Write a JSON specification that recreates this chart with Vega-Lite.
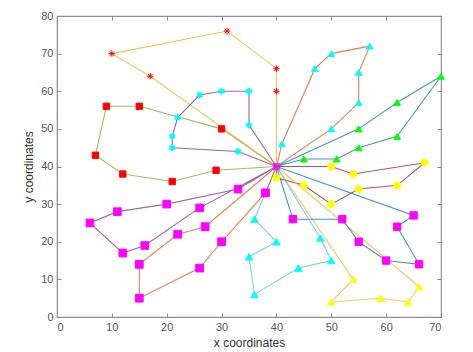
{
  "$schema": "https://vega.github.io/schema/vega-lite/v6.json",
  "autosize": "none",
  "width": 384,
  "height": 301,
  "padding": {"left": 57, "top": 16, "right": 32, "bottom": 35},
  "background": "white",
  "config": {
    "view": {"stroke": "#8f8f8f", "strokeWidth": 1.2},
    "font": "Liberation Sans",
    "axis": {
      "grid": false,
      "domainColor": "#8f8f8f",
      "tickColor": "#8f8f8f",
      "tickSize": -4,
      "labelPadding": 8,
      "labelColor": "#555555",
      "labelFontSize": 11,
      "titleColor": "#333333",
      "titleFontSize": 12,
      "titleFontWeight": "normal"
    }
  },
  "data": {"values": [
    {"route": "R1", "seq": 0, "x": 40, "y": 40, "kind": "depot"},
    {"route": "R1", "seq": 1, "x": 30, "y": 50, "kind": "customer"},
    {"route": "R1", "seq": 2, "x": 15, "y": 56, "kind": "customer"},
    {"route": "R1", "seq": 3, "x": 9, "y": 56, "kind": "customer"},
    {"route": "R1", "seq": 4, "x": 7, "y": 43, "kind": "customer"},
    {"route": "R1", "seq": 5, "x": 12, "y": 38, "kind": "customer"},
    {"route": "R1", "seq": 6, "x": 21, "y": 36, "kind": "customer"},
    {"route": "R1", "seq": 7, "x": 29, "y": 39, "kind": "customer"},
    {"route": "R1", "seq": 8, "x": 40, "y": 40, "kind": "depot"},

    {"route": "R2", "seq": 0, "x": 40, "y": 40, "kind": "depot"},
    {"route": "R2", "seq": 1, "x": 40, "y": 60, "kind": "customer"},
    {"route": "R2", "seq": 2, "x": 40, "y": 66, "kind": "customer"},
    {"route": "R2", "seq": 3, "x": 31, "y": 76, "kind": "customer"},
    {"route": "R2", "seq": 4, "x": 10, "y": 70, "kind": "customer"},
    {"route": "R2", "seq": 5, "x": 17, "y": 64, "kind": "customer"},
    {"route": "R2", "seq": 6, "x": 40, "y": 40, "kind": "depot"},

    {"route": "R3", "seq": 0, "x": 40, "y": 40, "kind": "depot"},
    {"route": "R3", "seq": 1, "x": 35, "y": 51, "kind": "customer"},
    {"route": "R3", "seq": 2, "x": 35, "y": 60, "kind": "customer"},
    {"route": "R3", "seq": 3, "x": 30, "y": 60, "kind": "customer"},
    {"route": "R3", "seq": 4, "x": 26, "y": 59, "kind": "customer"},
    {"route": "R3", "seq": 5, "x": 22, "y": 53, "kind": "customer"},
    {"route": "R3", "seq": 6, "x": 21, "y": 48, "kind": "customer"},
    {"route": "R3", "seq": 7, "x": 21, "y": 45, "kind": "customer"},
    {"route": "R3", "seq": 8, "x": 33, "y": 44, "kind": "customer"},
    {"route": "R3", "seq": 9, "x": 40, "y": 40, "kind": "depot"},

    {"route": "R4", "seq": 0, "x": 40, "y": 40, "kind": "depot"},
    {"route": "R4", "seq": 1, "x": 41, "y": 46, "kind": "customer"},
    {"route": "R4", "seq": 2, "x": 47, "y": 66, "kind": "customer"},
    {"route": "R4", "seq": 3, "x": 50, "y": 70, "kind": "customer"},
    {"route": "R4", "seq": 4, "x": 57, "y": 72, "kind": "customer"},
    {"route": "R4", "seq": 5, "x": 55, "y": 65, "kind": "customer"},
    {"route": "R4", "seq": 6, "x": 55, "y": 57, "kind": "customer"},
    {"route": "R4", "seq": 7, "x": 50, "y": 50, "kind": "customer"},
    {"route": "R4", "seq": 8, "x": 40, "y": 40, "kind": "depot"},

    {"route": "R5", "seq": 0, "x": 40, "y": 40, "kind": "depot"},
    {"route": "R5", "seq": 1, "x": 45, "y": 42, "kind": "customer"},
    {"route": "R5", "seq": 2, "x": 51, "y": 42, "kind": "customer"},
    {"route": "R5", "seq": 3, "x": 55, "y": 45, "kind": "customer"},
    {"route": "R5", "seq": 4, "x": 62, "y": 48, "kind": "customer"},
    {"route": "R5", "seq": 5, "x": 70, "y": 64, "kind": "customer"},
    {"route": "R5", "seq": 6, "x": 62, "y": 57, "kind": "customer"},
    {"route": "R5", "seq": 7, "x": 55, "y": 50, "kind": "customer"},
    {"route": "R5", "seq": 8, "x": 40, "y": 40, "kind": "depot"},

    {"route": "R6", "seq": 0, "x": 40, "y": 40, "kind": "depot"},
    {"route": "R6", "seq": 1, "x": 50, "y": 40, "kind": "customer"},
    {"route": "R6", "seq": 2, "x": 54, "y": 38, "kind": "customer"},
    {"route": "R6", "seq": 3, "x": 67, "y": 41, "kind": "customer"},
    {"route": "R6", "seq": 4, "x": 62, "y": 35, "kind": "customer"},
    {"route": "R6", "seq": 5, "x": 55, "y": 34, "kind": "customer"},
    {"route": "R6", "seq": 6, "x": 50, "y": 30, "kind": "customer"},
    {"route": "R6", "seq": 7, "x": 45, "y": 35, "kind": "customer"},
    {"route": "R6", "seq": 8, "x": 40, "y": 37, "kind": "customer"},
    {"route": "R6", "seq": 9, "x": 40, "y": 40, "kind": "depot"},

    {"route": "R7", "seq": 0, "x": 40, "y": 40, "kind": "depot"},
    {"route": "R7", "seq": 1, "x": 54, "y": 10, "kind": "customer"},
    {"route": "R7", "seq": 2, "x": 50, "y": 4, "kind": "customer"},
    {"route": "R7", "seq": 3, "x": 59, "y": 5, "kind": "customer"},
    {"route": "R7", "seq": 4, "x": 64, "y": 4, "kind": "customer"},
    {"route": "R7", "seq": 5, "x": 66, "y": 8, "kind": "customer"},
    {"route": "R7", "seq": 6, "x": 40, "y": 40, "kind": "depot"},

    {"route": "R8", "seq": 0, "x": 40, "y": 40, "kind": "depot"},
    {"route": "R8", "seq": 1, "x": 43, "y": 26, "kind": "customer"},
    {"route": "R8", "seq": 2, "x": 52, "y": 26, "kind": "customer"},
    {"route": "R8", "seq": 3, "x": 55, "y": 20, "kind": "customer"},
    {"route": "R8", "seq": 4, "x": 60, "y": 15, "kind": "customer"},
    {"route": "R8", "seq": 5, "x": 66, "y": 14, "kind": "customer"},
    {"route": "R8", "seq": 6, "x": 62, "y": 24, "kind": "customer"},
    {"route": "R8", "seq": 7, "x": 65, "y": 27, "kind": "customer"},
    {"route": "R8", "seq": 8, "x": 40, "y": 40, "kind": "depot"},

    {"route": "R9", "seq": 0, "x": 40, "y": 40, "kind": "depot"},
    {"route": "R9", "seq": 1, "x": 36, "y": 26, "kind": "customer"},
    {"route": "R9", "seq": 2, "x": 40, "y": 20, "kind": "customer"},
    {"route": "R9", "seq": 3, "x": 35, "y": 16, "kind": "customer"},
    {"route": "R9", "seq": 4, "x": 36, "y": 6, "kind": "customer"},
    {"route": "R9", "seq": 5, "x": 44, "y": 13, "kind": "customer"},
    {"route": "R9", "seq": 6, "x": 50, "y": 15, "kind": "customer"},
    {"route": "R9", "seq": 7, "x": 48, "y": 21, "kind": "customer"},
    {"route": "R9", "seq": 8, "x": 40, "y": 40, "kind": "depot"},

    {"route": "R10", "seq": 0, "x": 40, "y": 40, "kind": "depot"},
    {"route": "R10", "seq": 1, "x": 33, "y": 34, "kind": "customer"},
    {"route": "R10", "seq": 2, "x": 20, "y": 30, "kind": "customer"},
    {"route": "R10", "seq": 3, "x": 11, "y": 28, "kind": "customer"},
    {"route": "R10", "seq": 4, "x": 6, "y": 25, "kind": "customer"},
    {"route": "R10", "seq": 5, "x": 12, "y": 17, "kind": "customer"},
    {"route": "R10", "seq": 6, "x": 16, "y": 19, "kind": "customer"},
    {"route": "R10", "seq": 7, "x": 26, "y": 29, "kind": "customer"},
    {"route": "R10", "seq": 8, "x": 40, "y": 40, "kind": "depot"},

    {"route": "R11", "seq": 0, "x": 40, "y": 40, "kind": "depot"},
    {"route": "R11", "seq": 1, "x": 38, "y": 33, "kind": "customer"},
    {"route": "R11", "seq": 2, "x": 30, "y": 20, "kind": "customer"},
    {"route": "R11", "seq": 3, "x": 26, "y": 13, "kind": "customer"},
    {"route": "R11", "seq": 4, "x": 15, "y": 5, "kind": "customer"},
    {"route": "R11", "seq": 5, "x": 15, "y": 14, "kind": "customer"},
    {"route": "R11", "seq": 6, "x": 22, "y": 22, "kind": "customer"},
    {"route": "R11", "seq": 7, "x": 27, "y": 24, "kind": "customer"},
    {"route": "R11", "seq": 8, "x": 40, "y": 40, "kind": "depot"}
  ]},
  "resolve": {"scale": {"stroke": "independent"}},
  "layer": [
    {
      "mark": {"type": "line", "strokeWidth": 1.1, "opacity": 0.75},
      "encoding": {
        "x": {"field": "x", "type": "quantitative", "scale": {"domain": [0, 70], "nice": false},
              "axis": {"orient": "top", "labels": false, "title": null, "domain": false, "values": [0,10,20,30,40,50,60,70]}},
        "y": {"field": "y", "type": "quantitative", "scale": {"domain": [0, 80], "nice": false},
              "axis": {"orient": "right", "labels": false, "title": null, "domain": false, "values": [0,10,20,30,40,50,60,70,80]}},
        "detail": {"field": "route"},
        "order": {"field": "seq"},
        "stroke": {"field": "route", "type": "nominal", "legend": null,
          "scale": {"domain": ["R1","R2","R3","R4","R5","R6","R7","R8","R9","R10","R11"],
                    "range": ["#77AC30","#EDB120","#7E2F8E","#D95319","#0072BD","#A2142F","#EDB120","#0072BD","#4DBEEE","#7E2F8E","#D95319"]}}
      }
    },
    {
      "transform": [{"filter": "datum.kind === 'customer'"}],
      "mark": {"type": "point", "filled": true, "opacity": 1, "strokeWidth": 1},
      "encoding": {
        "x": {"field": "x", "type": "quantitative",
              "axis": {"orient": "bottom", "title": "x coordinates", "values": [0,10,20,30,40,50,60,70], "titlePadding": 5}},
        "y": {"field": "y", "type": "quantitative",
              "axis": {"orient": "left", "title": "y coordinates", "values": [0,10,20,30,40,50,60,70,80], "titlePadding": 5}},
        "shape": {"field": "route", "type": "nominal", "legend": null,
          "scale": {"domain": ["R1","R2","R3","R4","R5","R6","R7","R8","R9","R10","R11"],
                    "range": ["square",
                              "M-1,0L1,0M0,-1L0,1M-0.7,-0.7L0.7,0.7M-0.7,0.7L0.7,-0.7",
                              "M0,-1L0.866,0.5L-0.866,0.5ZM0,1L-0.866,-0.5L0.866,-0.5Z",
                              "triangle-up","triangle-up","circle","triangle-up","square","triangle-up","square","square"]}},
        "size": {"field": "route", "type": "nominal", "legend": null,
          "scale": {"domain": ["R1","R2","R3","R4","R5","R6","R7","R8","R9","R10","R11"],
                    "range": [40, 60, 50, 45, 45, 35, 45, 40, 45, 40, 40]}},
        "fill": {"field": "route", "type": "nominal", "legend": null,
          "scale": {"domain": ["R1","R2","R3","R4","R5","R6","R7","R8","R9","R10","R11"],
                    "range": ["#FF0000","#FF0000","#00FFFF","#00FFFF","#00FF00","#FFFF00","#FFFF00","#FF00FF","#00FFFF","#FF00FF","#FF00FF"]}},
        "stroke": {"field": "route", "type": "nominal", "legend": null,
          "scale": {"domain": ["R1","R2","R3","R4","R5","R6","R7","R8","R9","R10","R11"],
                    "range": ["#FF0000","#FF0000","#00FFFF","#00FFFF","#00FF00","#FFFF00","#FFFF00","#FF00FF","#00FFFF","#FF00FF","#FF00FF"]}}
      }
    },
    {
      "transform": [{"filter": "datum.kind === 'depot' && datum.route === 'R1' && datum.seq === 0"}],
      "mark": {"type": "square", "filled": true, "color": "#FF00FF", "size": 50},
      "encoding": {
        "x": {"field": "x", "type": "quantitative", "axis": null},
        "y": {"field": "y", "type": "quantitative", "axis": null}
      }
    }
  ]
}
